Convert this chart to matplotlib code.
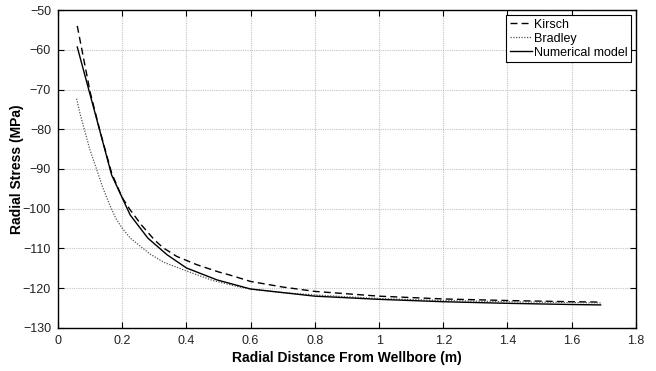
import matplotlib
matplotlib.use('Agg')
import matplotlib.pyplot as plt

plt.rcParams['font.family'] = ['Liberation Sans', 'DejaVu Sans']

# distancia radial (m) e tensao radial (MPa)
r_kirsch = [0.06, 0.08, 0.1, 0.13, 0.167, 0.2, 0.224, 0.26, 0.3, 0.327, 0.37, 0.433,
            0.5, 0.536, 0.6, 0.7, 0.8, 1.0, 1.2, 1.4, 1.6, 1.69]
s_kirsch = [-54, -62.3, -70.6, -80.2, -91, -97.2, -100.2, -104.1, -107.8, -109.8,
            -112, -114.1, -115.9, -116.7, -118.3, -119.7, -120.8, -122, -122.7,
            -123.1, -123.4, -123.5]

r_bradley = [0.058, 0.07, 0.082, 0.1, 0.12, 0.14, 0.165, 0.18, 0.2, 0.224, 0.265,
             0.287, 0.33, 0.405, 0.48, 0.56, 0.6, 0.7, 0.8, 1.0, 1.2, 1.4, 1.6, 1.69]
s_bradley = [-72.3, -76.5, -80, -85.3, -90, -94.8, -99.8, -102.4, -104.9, -107.3, -110,
             -111.4, -113.5, -115.8, -118, -119.6, -120.2, -121.1, -121.7, -122.6,
             -123.1, -123.4, -123.6, -123.7]

r_num = [0.06, 0.1, 0.13, 0.167, 0.225, 0.28, 0.34, 0.4, 0.495, 0.6, 0.8, 1.0,
         1.2, 1.4, 1.6, 1.69]
s_num = [-59.3, -71.3, -80.3, -91.5, -101.6, -107.4, -111.6, -114.9, -117.9, -120.2,
         -122, -122.8, -123.4, -123.8, -124.1, -124.2]

x_ticks = [0, 0.2, 0.4, 0.6, 0.8, 1, 1.2, 1.4, 1.6, 1.8]
y_ticks = [-130, -120, -110, -100, -90, -80, -70, -60, -50]

fig = plt.figure(figsize=(6.56, 3.71), dpi=100)
ax = fig.add_axes([0.0884, 0.116, 0.881, 0.857])

ax.plot(r_kirsch, s_kirsch, color='black', linestyle=(0, (5, 3)), linewidth=1.0, label='Kirsch')
ax.plot(r_bradley, s_bradley, color='#555555', linestyle=(0, (1, 1.2)), linewidth=0.9, label='Bradley')
ax.plot(r_num, s_num, color='black', linestyle='-', linewidth=1.0, label='Numerical model')

ax.set_xlim(0, 1.8)
ax.set_ylim(-130, -50)
ax.set_xticks(x_ticks)
ax.set_xticklabels([str(t) for t in x_ticks])
ax.set_yticks(y_ticks)

ax.grid(True, color='#c4c4c4', linestyle=(0, (1, 1)), linewidth=0.8)
ax.tick_params(direction='in', top=True, right=True, length=4, labelsize=9, pad=5,
               labelcolor='#222222')
for lado in ax.spines.values():
    lado.set_linewidth(1.0)

ax.set_xlabel('Radial Distance From Wellbore (m)', fontsize=10, fontweight='bold', labelpad=3)
ax.set_ylabel('Radial Stress (MPa)', fontsize=10, fontweight='bold', labelpad=-1)

leg = ax.legend(loc='upper right', fontsize=9, fancybox=False, framealpha=1,
                edgecolor='black', handlelength=1.8, handletextpad=0.1,
                borderpad=0.3, labelspacing=0.15, borderaxespad=0.4)
leg.get_frame().set_linewidth(0.8)

fig.savefig('out.png', dpi=100)
